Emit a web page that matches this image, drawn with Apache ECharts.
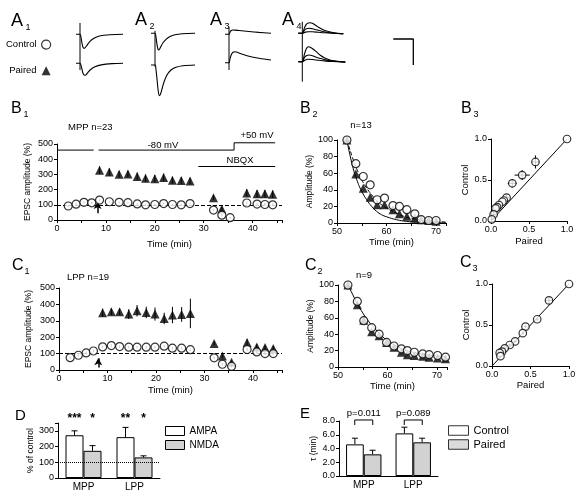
<!DOCTYPE html>
<html><head><meta charset="utf-8">
<script src="https://cdn.jsdelivr.net/npm/echarts@6/dist/echarts.min.js"></script>
<style>html,body{margin:0;padding:0;background:#fff}#c{width:586px;height:499px}</style>
</head><body><div id="c"></div><script>
// ---------------- DATA ----------------
// A: example traces (time ms from stimulus, current in display units relative to baseline)
const a1Ctrl = [[-4,0],[0,0],[1,-3],[2,-9],[3,-13],[4,-14],[5,-13.5],[7,-11],[10,-7],[14,-4],[18,-2.2],[24,-1],[30,-0.4],[43,0]];
const a1Pair = [[-4,0],[0,0],[1,-2],[2,-6],[3,-10],[4.5,-12],[6,-11.5],[8,-9],[11,-6],[15,-3.5],[20,-1.8],[26,-0.8],[32,-0.3],[43,0]];
const a2Ctrl = [[-4,0],[0,0],[1,-4],[2,-11],[3,-16],[3.5,-16.7],[4.5,-16],[6,-13],[8,-9.5],[11,-6],[15,-3.2],[20,-1.5],[27,-0.5],[40,0]];
const a2Pair = [[-4,0],[0,0],[1,-5],[2,-14],[3,-24],[4.3,-30.7],[5.5,-29],[7,-24],[9,-17],[12,-10],[16,-5],[21,-2.3],[28,-0.8],[40,0]];
const a3Ctrl = [[-4,0],[0,0],[1,2],[2,3.5],[4,4.3],[6,4.2],[10,3.8],[20,2.8],[30,1.9],[42,1]];
const a3Pair = [[-4,0],[0,0],[1,4],[2.5,8.5],[4,10.5],[6,11],[8,10.5],[12,9],[20,6.5],[30,4.5],[42,2.7]];
const a4CtrlSet = [
  [[-4,0],[0,0],[2,5],[4,9],[6,10.3],[8,10.6],[11,9.5],[14,7.5],[18,5],[22,3],[27,1.5],[32,0.5],[38,-0.3],[41,-0.5]],
  [[-4,0],[0,0],[2,3],[4,4.5],[7,5],[10,4.5],[14,3.5],[18,2.5],[23,1.3],[28,0.5],[34,0],[41,-0.5]],
  [[-4,0],[0,0],[3,1.2],[6,1.6],[10,1.5],[16,1],[22,0.5],[30,0],[41,-0.4]]
];
const a4PairSet = [
  [[-4,0],[0,0],[2,7],[4,13],[6,15],[8,14.5],[11,12.5],[14,10],[18,6.5],[22,4],[27,2],[32,0.8],[38,0],[43,-0.5]],
  [[-4,0],[0,0],[2,4],[4,6],[7,6.7],[10,6],[14,4.5],[18,3.2],[23,1.8],[28,0.8],[34,0.2],[43,-0.3]],
  [[-4,0],[0,0],[3,1.8],[6,2.4],[10,2.2],[16,1.5],[22,0.8],[30,0.2],[43,-0.2]]
];
const scaleBar = [[91,-5.7],[111,-5.7],[111,-31.7]];

// B1: MPP time course (n=23)
const b1CtrlTime = [2.3,3.9,5.5,7.1,8.7,10.7,12.7,14.5,16.4,18.1,20.0,21.8,23.6,25.4,27.2,32.0,33.7,35.4,38.8,40.9,42.5,44.1];
const b1Ctrl     = [92,104,116,113,131,120,116,114,106,100,102,108,102,100,108,65,32,15,112,105,102,100];
const b1CtrlErr  = [8,8,8,8,8,6,6,6,6,6,6,6,6,6,6,8,8,6,10,10,10,10];
const b1PairTime = [8.7,10.7,12.7,14.5,16.4,18.1,20.0,21.8,23.6,25.4,27.2,32.0,33.7,38.8,40.9,42.5,44.1];
const b1Pair     = [328,315,301,303,287,274,272,280,262,260,256,147,72,178,172,172,170];
const b1PairErr  = [25,25,22,22,25,25,25,25,22,22,22,15,15,25,25,25,25];
const b1Hold1 = [[0,460],[7.5,460]];
const b1Hold2 = [[8.5,460],[36.2,460],[36.2,508],[44.6,508]];
const b1Nbqx  = [[28.9,352],[44.6,352]];

// C1: LPP time course (n=19)
const c1CtrlTime = [2.3,4.0,5.6,7.1,9.0,10.8,12.5,14.4,16.1,18.0,19.8,21.7,23.4,25.3,27.1,32.0,33.7,35.6,38.8,40.8,42.5,44.2];
const c1Ctrl     = [75,90,104,116,141,149,143,139,139,139,139,145,133,133,124,74,35,23,125,110,100,100];
const c1CtrlErr  = [8,8,8,8,8,8,8,8,8,8,8,8,8,8,8,8,8,8,10,10,10,10];
const c1PairTime = [9.0,10.8,12.5,14.4,16.1,18.0,19.8,21.7,23.4,25.3,27.1,32.0,33.7,35.6,38.8,40.8,42.5,44.2];
const c1Pair     = [349,355,355,341,361,351,341,314,335,339,345,162,86,47,168,141,137,131];
const c1PairErr  = [25,20,20,30,35,35,40,35,50,45,90,10,10,10,20,15,15,15];

// B2: MPP decay under NBQX
const b2Time = [52.0,53.8,55.3,56.7,58.1,59.6,61.3,62.6,64.1,65.7,67.0,68.5,70.0];
const b2Ctrl = [100,71.5,56,46,28,30,21,20,16,11,4,3,3];
const b2Pair = [100,59,42,31,22,22,16,11,8,6,4,3,2];
const b2FitTime = [52,53,54,55,56,57,58,59,60,62,64,66,68,70,72];
const b2FitCtrl = [100,81,65,52,42,34,27,22,18,12,7,4.5,3,2,1];
const b2FitPair = [100,72,52,38,28,20,14,10,7.5,4,2,1,0.5,0.3,0.2];

// C2: LPP decay under NBQX
const c2Time = [52,53.9,55.2,56.8,58.3,59.8,61.3,62.8,64.0,65.4,67.1,68.4,70.1,71.7];
const c2Ctrl = [100,80,56.5,48,40,30,25.6,22,20,18,16,15,14,12];
const c2Pair = [100,76,57,43,38,30,24,18,15,14,13,12,11,10];
const c2FitTime = [52,53,54,55,56,57,58,59,60,62,64,66,68,70,72];
const c2Fit = [100,88,76,66,57,50,43,37,32,25,20,17,15,13.5,12.5];

// B3 / C3: control vs paired
const b3Paired    = [1.0,0.585,0.41,0.28,0.205,0.17,0.15,0.105,0.08,0.06,0.035,0.01];
const b3Control   = [1.0,0.72,0.56,0.46,0.285,0.25,0.235,0.195,0.17,0.155,0.08,0.02];
const b3PairedErr = [0,0.05,0.1,0.06,0.03,0.03,0.03,0.03,0.03,0.03,0.03,0.02];
const b3ControlErr= [0,0.08,0.06,0.05,0.04,0.03,0.03,0.03,0.03,0.03,0.03,0.02];
const c3Paired    = [1.0,0.74,0.587,0.435,0.40,0.30,0.23,0.165,0.13,0.10,0.11];
const c3Control   = [1.0,0.80,0.57,0.48,0.40,0.30,0.256,0.216,0.175,0.16,0.12];
const c3PairedErr = [0,0.04,0.02,0.02,0.02,0.02,0.02,0.02,0.02,0.02,0.02];
const c3ControlErr= [0,0.04,0.02,0.02,0.02,0.02,0.02,0.02,0.02,0.02,0.02];
const identity = [[0,0],[1,1]];

// D: % of control
const pathways = ['MPP','LPP'];
const ampa = [272,260];   const ampaErr = [28,62];
const nmda = [173,131];   const nmdaErr = [33,10];
const ampaStars = ['***','**'];
const nmdaStars = ['*','*'];

// E: tau (min)
const tauCtrl = [4.6,6.2]; const tauCtrlErr = [0.9,0.9];
const tauPair = [3.15,4.9]; const tauPairErr = [0.6,0.6];
const pValues = ['p=0.011','p=0.089'];

// ---------------- BUILD ----------------
const FF = "'Liberation Sans', Arial, Helvetica, sans-serif";
const zip = (xs, ys) => xs.map((x,i)=>[x, ys[i]]);
const zip3 = (xs, ys, es) => xs.map((x,i)=>[x, ys[i], es[i]]);
const shift = (arr, off) => arr.map(p=>[p[0], p[1]+off]);

function ax(extra){
  return Object.assign({
    axisLine:{show:true,onZero:false,lineStyle:{color:'#000',width:1}},
    axisTick:{show:true,length:3,lineStyle:{color:'#000',width:1}},
    axisLabel:{color:'#000',fontSize:9,fontFamily:FF,margin:4},
    splitLine:{show:false},
    nameLocation:'middle',
    nameTextStyle:{color:'#000',fontSize:9.5,fontFamily:FF}
  }, extra);
}
const hidden = (gi, min, max) => ({gridIndex:gi, type:'value', min, max, show:false});
const tens = v => (v % 10 === 0 ? String(v) : '');

const grids = [
  {left:57, top:144, width:225, height:76},   // 0 B1
  {left:59, top:288, width:223, height:82},   // 1 C1
  {left:337, top:140, width:109, height:83},  // 2 B2
  {left:338, top:285, width:109, height:82},  // 3 C2
  {left:491, top:139, width:76, height:82},   // 4 B3
  {left:492, top:284, width:77, height:82},   // 5 C3
  {left:58, top:423, width:102, height:55},   // 6 D
  {left:339, top:421, width:99, height:55},   // 7 E
  {left:75, top:19.3, width:50, height:80},   // 8 A1
  {left:150, top:18.3, width:45, height:80},  // 9 A2
  {left:224, top:19.3, width:50, height:80},  // 10 A3
  {left:297.3, top:18.3, width:120, height:80}// 11 A4
].map(g=>Object.assign({outerBoundsMode:'none', containLabel:false}, g));

const xAxes = [
  ax({gridIndex:0,type:'value',min:0,max:46,interval:5,name:'Time (min)',nameGap:19,axisLabel:{color:'#000',fontSize:9,fontFamily:FF,margin:4,formatter:tens}}),
  ax({gridIndex:1,type:'value',min:0,max:46,interval:5,name:'Time (min)',nameGap:15,axisLabel:{color:'#000',fontSize:9,fontFamily:FF,margin:4,formatter:tens}}),
  ax({gridIndex:2,type:'value',min:50,max:72,interval:5,name:'Time (min)',nameGap:14,axisLabel:{color:'#000',fontSize:9,fontFamily:FF,margin:4,formatter:tens}}),
  ax({gridIndex:3,type:'value',min:50,max:72,interval:5,name:'Time (min)',nameGap:12.5,axisLabel:{color:'#000',fontSize:9,fontFamily:FF,margin:4,formatter:tens}}),
  ax({gridIndex:4,type:'value',min:0,max:1,interval:0.5,name:'Paired',nameGap:15,axisLabel:{color:'#000',fontSize:9,fontFamily:FF,margin:4,formatter:v=>v.toFixed(1)}}),
  ax({gridIndex:5,type:'value',min:0,max:1,interval:0.5,name:'Paired',nameGap:12.5,axisLabel:{color:'#000',fontSize:9,fontFamily:FF,margin:4,formatter:v=>v.toFixed(1)}}),
  ax({gridIndex:6,type:'category',data:pathways,axisTick:{show:false},axisLabel:{color:'#000',fontSize:10,fontFamily:FF,margin:4}}),
  ax({gridIndex:7,type:'category',data:pathways,axisTick:{show:false},axisLabel:{color:'#000',fontSize:10,fontFamily:FF,margin:4}}),
  hidden(8,-5,45), hidden(9,-5,40), hidden(10,-5,45), hidden(11,-5,115)
];
const yAxes = [
  ax({gridIndex:0,type:'value',min:0,max:500,interval:100,name:'EPSC amplitude (%)',nameGap:25,nameTextStyle:{color:'#000',fontSize:8.5,fontFamily:FF}}),
  ax({gridIndex:1,type:'value',min:0,max:500,interval:100,name:'EPSC amplitude (%)',nameGap:26,nameTextStyle:{color:'#000',fontSize:8.5,fontFamily:FF}}),
  ax({gridIndex:2,type:'value',min:0,max:100,interval:20,name:'Amplitude (%)',nameGap:18,nameTextStyle:{color:'#000',fontSize:8.5,fontFamily:FF}}),
  ax({gridIndex:3,type:'value',min:0,max:100,interval:20,name:'Amplitude (%)',nameGap:19,nameTextStyle:{color:'#000',fontSize:8.5,fontFamily:FF}}),
  ax({gridIndex:4,type:'value',min:0,max:1,interval:0.5,name:'Control',nameGap:16.5,axisLabel:{color:'#000',fontSize:9,fontFamily:FF,margin:4,formatter:v=>v.toFixed(1)}}),
  ax({gridIndex:5,type:'value',min:0,max:1,interval:0.5,name:'Control',nameGap:17.5,axisLabel:{color:'#000',fontSize:9,fontFamily:FF,margin:4,formatter:v=>v.toFixed(1)}}),
  ax({gridIndex:6,type:'value',min:0,max:350,interval:100,name:'% of control',nameGap:20.5,nameTextStyle:{color:'#000',fontSize:8.5,fontFamily:FF},axisLabel:{color:'#000',fontSize:9,fontFamily:FF,margin:4,formatter:v=>(v%100===0?String(v):'')}}),
  ax({gridIndex:7,type:'value',min:0,max:8,interval:2,name:'τ (min)',nameGap:19.5,nameTextStyle:{color:'#000',fontSize:8.5,fontFamily:FF},axisLabel:{color:'#000',fontSize:9,fontFamily:FF,margin:4,formatter:v=>v.toFixed(1)}}),
  hidden(8,-65,15), hidden(9,-65,15), hidden(10,-65,15), hidden(11,-65,15)
];

const LS = {color:'#000', width:1};
function circles(gi, data){ return {type:'scatter', name:'Control', xAxisIndex:gi, yAxisIndex:gi, data, symbol:'circle', symbolSize:8, itemStyle:{color:'#fff',borderColor:'#000',borderWidth:1.2}, z:5}; }
function triangles(gi, data){ return {type:'scatter', name:'Paired', xAxisIndex:gi, yAxisIndex:gi, data, symbol:'triangle', symbolSize:9, itemStyle:{color:'#000'}, z:4}; }
function line(gi, data, extra){ return Object.assign({type:'line', xAxisIndex:gi, yAxisIndex:gi, data, showSymbol:false, symbol:'none', lineStyle:Object.assign({},LS), clip:false, z:2, silent:true}, extra||{}); }
function errV(params, api){
  const x=api.value(0), y=api.value(1), e=api.value(2);
  const a=api.coord([x,y-e]), b=api.coord([x,y+e]);
  return {type:'line', shape:{x1:a[0],y1:a[1],x2:b[0],y2:b[1]}, style:{stroke:'#000',lineWidth:1}};
}
function errXY(params, api){
  const x=api.value(0), y=api.value(1), ex=api.value(2), ey=api.value(3);
  const a=api.coord([x-ex,y]), b=api.coord([x+ex,y]), c=api.coord([x,y-ey]), d=api.coord([x,y+ey]);
  return {type:'group', children:[
    {type:'line', shape:{x1:a[0],y1:a[1],x2:b[0],y2:b[1]}, style:{stroke:'#000',lineWidth:1}},
    {type:'line', shape:{x1:c[0],y1:c[1],x2:d[0],y2:d[1]}, style:{stroke:'#000',lineWidth:1}}
  ]};
}
function errSeries(gi, data, fn){ return {type:'custom', xAxisIndex:gi, yAxisIndex:gi, data, renderItem:fn||errV, z:3, silent:true, encode:{x:0,y:1}}; }
function barErr(off){
  return function(params, api){
    const c=api.coord([api.value(0), api.value(1)]);
    const t=api.coord([api.value(0), api.value(1)+api.value(2)]);
    const x=c[0]+off;
    return {type:'group', children:[
      {type:'line', shape:{x1:x,y1:c[1],x2:x,y2:t[1]}, style:{stroke:'#000',lineWidth:1}},
      {type:'line', shape:{x1:x-3,y1:t[1],x2:x+3,y2:t[1]}, style:{stroke:'#000',lineWidth:1}}
    ]};
  };
}
function starText(labels, off){
  return function(params, api){
    const c=api.coord([api.value(0), api.value(1)]);
    return {type:'text', x:c[0]+off, y:c[1], style:{text:labels[params.dataIndex], fontSize:12, fontWeight:'bold', fontFamily:FF, fill:'#000', align:'center', verticalAlign:'middle'}};
  };
}
function pBracket(params, api){
  const c=api.coord([api.value(0), api.value(1)]);
  const x=c[0], y=c[1];
  return {type:'group', children:[
    {type:'polyline', shape:{points:[[x-9,y+5],[x-9,y],[x+9,y],[x+9,y+5]]}, style:{stroke:'#000',lineWidth:1,fill:null}},
    {type:'text', x:x, y:y-2, style:{text:pValues[params.dataIndex], fontSize:9.5, fontFamily:FF, fill:'#000', align:'center', verticalAlign:'bottom'}}
  ]};
}
function refLine(gi, val, type){
  return {type:'line', xAxisIndex:gi, yAxisIndex:gi, data:[], z:1, silent:true,
    markLine:{silent:true, symbol:'none', label:{show:false}, lineStyle:{color:'#000', width:1, type:type}, data:[{yAxis:val}], animation:false}};
}
function arrow(gi, x, y0, y1){
  return {type:'line', xAxisIndex:gi, yAxisIndex:gi, data:[], z:6, silent:true,
    markLine:{silent:true, symbol:['none','arrow'], symbolSize:[6,7], label:{show:false}, lineStyle:{color:'#000', width:1.5, type:'solid'},
      data:[[{coord:[x,y0]},{coord:[x,y1]}]], animation:false}};
}
const traceStyle = {smooth:0.35, lineStyle:{color:'#000', width:1.1}};

const series = [];
// B1
series.push(refLine(0,100,'dashed'));
series.push(errSeries(0, zip3(b1PairTime,b1Pair,b1PairErr)));
series.push(errSeries(0, zip3(b1CtrlTime,b1Ctrl,b1CtrlErr)));
series.push(triangles(0, zip(b1PairTime,b1Pair)));
series.push(circles(0, zip(b1CtrlTime,b1Ctrl)));
series.push(line(0, b1Hold1), line(0, b1Hold2), line(0, b1Nbqx));
series.push(arrow(0, 8.3, 45, 118));
// C1
series.push(refLine(1,100,'dashed'));
series.push(errSeries(1, zip3(c1PairTime,c1Pair,c1PairErr)));
series.push(errSeries(1, zip3(c1CtrlTime,c1Ctrl,c1CtrlErr)));
series.push(triangles(1, zip(c1PairTime,c1Pair)));
series.push(circles(1, zip(c1CtrlTime,c1Ctrl)));
series.push(arrow(1, 8.1, 15, 72));
// B2
series.push(line(2, zip(b2FitTime,b2FitPair), {smooth:true}));
series.push(line(2, zip(b2FitTime,b2FitCtrl), {smooth:true, lineStyle:{color:'#000',width:1,type:'dashed'}}));
series.push(triangles(2, zip(b2Time,b2Pair)));
series.push(circles(2, zip(b2Time,b2Ctrl)));
// C2
series.push(line(3, zip(c2FitTime,c2Fit), {smooth:true}));
series.push(triangles(3, zip(c2Time,c2Pair)));
series.push(circles(3, zip(c2Time,c2Ctrl)));
// B3
series.push(line(4, identity));
series.push(errSeries(4, b3Paired.map((x,i)=>[x,b3Control[i],b3PairedErr[i],b3ControlErr[i]]), errXY));
series.push(Object.assign(circles(4, zip(b3Paired,b3Control)), {name:'Control', symbolSize:7.5}));
// C3
series.push(line(5, identity));
series.push(errSeries(5, c3Paired.map((x,i)=>[x,c3Control[i],c3PairedErr[i],c3ControlErr[i]]), errXY));
series.push(Object.assign(circles(5, zip(c3Paired,c3Control)), {name:'Control', symbolSize:7.5}));
// D
series.push(refLine(6,100,'dotted'));
series.push({type:'bar', name:'AMPA', xAxisIndex:6, yAxisIndex:6, data:ampa, barWidth:18, barGap:'0%', itemStyle:{color:'#fff',borderColor:'#000',borderWidth:1}, z:3, silent:true});
series.push({type:'bar', name:'NMDA', xAxisIndex:6, yAxisIndex:6, data:nmda, barWidth:18, barGap:'0%', itemStyle:{color:'#d2d2d2',borderColor:'#000',borderWidth:1}, z:3, silent:true});
series.push(errSeries(6, ampa.map((v,i)=>[i,v,ampaErr[i]]), barErr(-9)));
series.push(errSeries(6, nmda.map((v,i)=>[i,v,nmdaErr[i]]), barErr(9)));
series.push(errSeries(6, ampa.map((v,i)=>[i,378]), starText(ampaStars,-9)));
series.push(errSeries(6, nmda.map((v,i)=>[i,378]), starText(nmdaStars,9)));
// E
series.push({type:'bar', name:'Control', xAxisIndex:7, yAxisIndex:7, data:tauCtrl, barWidth:17.7, barGap:'0%', itemStyle:{color:'#fff',borderColor:'#000',borderWidth:1}, z:3, silent:true});
series.push({type:'bar', name:'Paired', xAxisIndex:7, yAxisIndex:7, data:tauPair, barWidth:17.7, barGap:'0%', itemStyle:{color:'#d2d2d2',borderColor:'#000',borderWidth:1}, z:3, silent:true});
series.push(errSeries(7, tauCtrl.map((v,i)=>[i,v,tauCtrlErr[i]]), barErr(-8.85)));
series.push(errSeries(7, tauPair.map((v,i)=>[i,v,tauPairErr[i]]), barErr(8.85)));
series.push(errSeries(7, pValues.map((p,i)=>[i,8.15]), pBracket));
// A traces
const stim = (gi, top, bot) => line(gi, [[0,top],[0,bot]]);
series.push(line(8, a1Ctrl, traceStyle), line(8, shift(a1Pair,-29), traceStyle), stim(8, 11.3, -35.7));
series.push(line(9, a2Ctrl, traceStyle), line(9, shift(a2Pair,-31.7), traceStyle), stim(9, 2.6, -33.4));
series.push(line(10, a3Ctrl, traceStyle), line(10, shift(a3Pair,-28.4), traceStyle), stim(10, 7.6, -35.7));
a4CtrlSet.forEach(t=>series.push(line(11, t, traceStyle)));
a4PairSet.forEach(t=>series.push(line(11, shift(t,-28.4), traceStyle)));
series.push(stim(11, 11.6, -48.4));
series.push(line(11, scaleBar, {lineStyle:{color:'#000', width:1.3}}));

// text annotations
function T(text, x, y, size, extra){
  return {type:'text', x, y, silent:true, style:Object.assign({text, fontSize:size, fontFamily:FF, fill:'#000', align:'left', verticalAlign:'top'}, extra||{})};
}
function panel(letter, sub, x, y, size){
  return [T(letter, x, y, size||16), T(sub, x+(size===18?14.5:12.5), y+(size===18?11:9.5), 9)];
}
const graphics = [].concat(
  panel('A','1',11,12,18), panel('A','2',135,11,18), panel('A','3',210,11,18), panel('A','4',282,11,18),
  panel('B','1',11,101), panel('B','2',300,101), panel('B','3',461,101),
  panel('C','1',12,258), panel('C','2',305,258), panel('C','3',460,255),
  [T('D',15,408,15), T('E',300,406,15)],
  [T('MPP n=23',68,127,9.5,{verticalAlign:'middle'}), T('LPP n=19',67,277,9.5,{verticalAlign:'middle'}),
   T('-80 mV',163,145.5,9.5,{align:'center',verticalAlign:'middle'}), T('+50 mV',257,135,9.5,{align:'center',verticalAlign:'middle'}),
   T('NBQX',240,160.5,9.5,{align:'center',verticalAlign:'middle'}),
   T('n=13',361,125,9.5,{align:'center',verticalAlign:'middle'}), T('n=9',364,275,9.5,{align:'center',verticalAlign:'middle'})]
);

const chart = echarts.init(document.getElementById('c'), null, {renderer:'canvas'});
chart.setOption({
  animation:false,
  backgroundColor:'#fff',
  textStyle:{fontFamily:FF, color:'#000'},
  grid:grids, xAxis:xAxes, yAxis:yAxes, series,
  legend:[
    {left:6, top:39.5, padding:0, orient:'vertical', align:'right', itemWidth:9, itemHeight:9, itemGap:16, selectedMode:false,
     textStyle:{fontSize:9.5, color:'#000', fontFamily:FF},
     data:[{name:'Control', icon:'circle', itemStyle:{color:'#fff',borderColor:'#000',borderWidth:1.2}},
           {name:'Paired', icon:'triangle', itemStyle:{color:'#000',borderWidth:0}}]},
    {left:165, top:426, padding:0, orient:'vertical', itemWidth:19, itemHeight:9, itemGap:4, selectedMode:false,
     textStyle:{fontSize:10, color:'#000', fontFamily:FF},
     data:[{name:'AMPA', icon:'rect', itemStyle:{color:'#fff',borderColor:'#000',borderWidth:1}},
           {name:'NMDA', icon:'rect', itemStyle:{color:'#d2d2d2',borderColor:'#000',borderWidth:1}}]},
    {left:448, top:425, padding:0, orient:'vertical', itemWidth:20, itemHeight:9.5, itemGap:3, selectedMode:false,
     textStyle:{fontSize:11, color:'#000', fontFamily:FF},
     data:[{name:'Control', icon:'rect', itemStyle:{color:'#fff',borderColor:'#000',borderWidth:1}},
           {name:'Paired', icon:'rect', itemStyle:{color:'#d2d2d2',borderColor:'#000',borderWidth:1}}]}
  ],
  graphic:graphics
});
</script></body></html>
